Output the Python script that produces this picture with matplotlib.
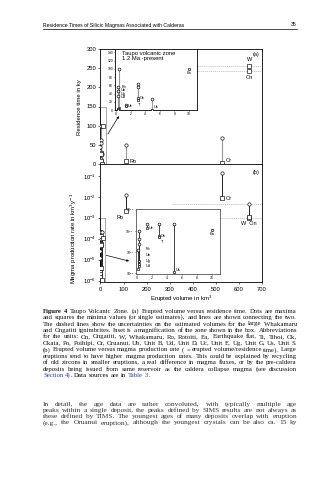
import matplotlib.pyplot as plt
import numpy as np
from matplotlib.patches import Rectangle

W_PX, H_PX, DPI = 329, 480, 100
plt.rcParams["font.family"] = ["Liberation Sans", "DejaVu Sans"]

# Large eruptions: W, On (Whakamaru, Ongatiti), Or (Oruanui), Ro (Rotoiti)
big_units = ["W", "On", "Or", "Ro"]
big_vol = [645, 645, 528, 112]
big_res_max = [np.nan, np.nan, 69, 49]
big_res_min = [256, 242, 1.5, 7.5]
big_rate_max = [4.5e-3, np.nan, 0.145, 0.012]
big_rate_min = [1.0e-3, 1.05e-3, 8.4e-3, 2.1e-3]

# volume uncertainty of the two large ignimbrites (dashed)
dash_lo_a = [308, 400]
dash_lo_b = [308, 511]

# Small deposits (shown in the insets)
small_units = ["Po", "Ub", "Ug", "Ud", "Ue", "Ok", "Ti", "Us", "Ea"]
small_vol = [0.35, 0.25, 0.3, 0.2, 1.3, 3.0, 3.0, 4.9, 10.0]
small_res_max = [99, 56, 45, 35, 12, 63, 55, 27, np.nan]
small_res_min = [5, 3, 2, 1, 9, 28, 25, 0.5, 99.5]
small_rate_max = [1.0e-4, 4.3e-5, 2.5e-5, 1.2e-5, 2.0e-4, 2.0e-4, np.nan, 2.0e-4, np.nan]
small_rate_min = [3.8e-6, 2.6e-6, 2.1e-6, 1.5e-6, 1.3e-4, 5.8e-5, 5.0e-5, 1.1e-6, 1.05e-4]

header = "Residence Times of Silicic Magmas Associated with Calderas"
page_no = "35"

BLUE = "#2b3f9a"
caption = [
    "Figure 4 | Taupo Volcanic Zone. (a) Erupted volume versus residence time. Dots are maxima",
    "and squares the minima values (or single estimates), and lines are shown connecting the two.",
    "The dashed lines show the uncertainties on the estimated volumes for the large Whakamaru",
    "and Ongatiti ignimbrites. Inset is a magnification of the zone shown in the box. Abbreviations",
    "for the units: On, Ongatiti, W, Whakamaru, Ro, Rotoiti, Ea, Earthquake flat, Ti, Tihoi, Ok,",
    "Okaia, Po, Poihipi, Or, Oruanui, Ub, Unit B, Ud, Unit D, Uc, Unit E, Ug, Unit G, Us, Unit S.",
    "(b) Erupted volume versus magma production rate ( = erupted volume/residence time). Large",
    "eruptions tend to have higher magma production rates. This could be explained by recycling",
    "of old zircons in smaller eruptions, a real difference in magma fluxes, or by the pre-caldera",
    "deposits being issued from same reservoir as the caldera collapse magma (see discussion",
]
caption_last = [("Section", BLUE, False), ("4)", BLUE, False), (".", "black", True),
                ("Data", "black", False), ("sources", "black", False), ("are", "black", False),
                ("in", "black", False), ("Table", BLUE, False), ("3", BLUE, False),
                (".", "black", True)]
body = [
    "In detail, the age data are rather convoluted, with typically multiple age",
    "peaks within a single deposit, the peaks defined by SIMS results are not always as",
    "these defined by TIMS. The youngest ages of many deposits overlap with eruption",
    "(e.g., the Oruanui eruption), although the youngest crystals can be also ca. 15 ky",
]


def fx(px):
    return px / W_PX


def fy(py):
    return 1 - py / H_PX


def axes_px(left, top, right, bottom):
    return fig.add_axes([fx(left), fy(bottom), fx(right) - fx(left), fy(top) - fy(bottom)])


fig = plt.figure(figsize=(W_PX / DPI, H_PX / DPI), dpi=DPI)
fig.patch.set_facecolor("white")

ax_a = axes_px(99.5, 49, 262, 164)
ax_b = axes_px(99.5, 164, 262, 282)
ins_a = axes_px(115, 49, 197, 110)
ins_b = axes_px(136, 209, 220, 274)


def draw_units(ax, vol, hi, lo, line_color, ms, lw):
    for v, h, l in zip(vol, hi, lo):
        if not (np.isnan(h) or np.isnan(l)):
            ax.plot([v, v], [l, h], color=line_color, lw=lw, zorder=2)
    ax.plot(vol, hi, "o", mfc="white", mec="black", ms=ms, mew=0.45, ls="none", zorder=3)
    ax.plot(vol, lo, "s", mfc="white", mec="black", ms=ms, mew=0.45, ls="none", zorder=3)


def style_axes(ax, size, length=1.5):
    for s in ax.spines.values():
        s.set_linewidth(0.6)
    ax.tick_params(labelsize=size, length=length, width=0.4, pad=1, direction="out")
    ax.minorticks_off()


# ---------- (a) residence time ----------
ax_a.set_xlim(-4, 700)
ax_a.set_ylim(0, 300)
ax_a.set_yticks(np.arange(0, 301, 50))
ax_a.set_xticks(np.arange(0, 701, 100))
ax_a.set_xticklabels([])
style_axes(ax_a, 4.2)
draw_units(ax_a, big_vol, big_res_max, big_res_min, "#999999", 2.4, 0.8)
draw_units(ax_a, small_vol, small_res_max, small_res_min, "#999999", 2.4, 0.8)
for lo, res in zip(dash_lo_a, big_res_min[:2]):
    ax_a.plot([lo, 700], [res, res], color="#999999", lw=0.4, ls=(0, (2, 1.5)), zorder=1)
ax_a.add_patch(Rectangle((-4, 0), 30, 150, fill=False, ec="#999999", lw=0.6))
ax_a.annotate("", xy=(80, 125), xytext=(32, 78),
              arrowprops=dict(arrowstyle="-|>", lw=0.5, color="black",
                              mutation_scale=3, shrinkA=0, shrinkB=0))
ax_a.annotate("W", (big_vol[0], big_res_min[0]), xytext=(0, 2.5), textcoords="offset points",
              ha="center", va="bottom", fontsize=4)
ax_a.annotate("On", (big_vol[1], big_res_min[1]), xytext=(0, -2.5), textcoords="offset points",
              ha="center", va="top", fontsize=4)
ax_a.annotate("Or", (big_vol[2], big_res_min[2]), xytext=(2.5, 0), textcoords="offset points",
              ha="left", va="bottom", fontsize=4)
ax_a.annotate("Ro", (big_vol[3], big_res_min[3]), xytext=(2.5, 0), textcoords="offset points",
              ha="left", va="center", fontsize=4)
ax_a.text(0.985, 0.97, "(a)", transform=ax_a.transAxes, ha="right", va="top", fontsize=4)

# inset (a)
ins_a.set_xlim(-0.15, 11.1)
ins_a.set_ylim(0, 148)
ins_a.set_xticks(np.arange(0, 11, 2))
ins_a.set_yticks(np.arange(0, 141, 20))
style_axes(ins_a, 2.4, 1.0)
ins_a.tick_params(pad=0.5)
draw_units(ins_a, small_vol, small_res_max, small_res_min, "#999999", 2.0, 0.8)
for name, y in zip(small_units[:4], [56, 48, 39, 31]):
    ins_a.text(0.7, y, name, fontsize=2.8, va="center")
ins_a.annotate("Ue", (small_vol[4], small_res_min[4]), xytext=(1.5, 0), textcoords="offset points",
               fontsize=2.8, va="center")
ins_a.annotate("Ok", (small_vol[5], small_res_min[5]), xytext=(1.5, 0), textcoords="offset points",
               fontsize=2.8, va="center")
ins_a.annotate("Ti", (small_vol[6], small_res_min[6]), xytext=(0, -2.5), textcoords="offset points",
               fontsize=2.8, va="top")
ins_a.annotate("Us", (small_vol[7], small_res_min[7]), xytext=(1.5, 0.5), textcoords="offset points",
               fontsize=2.8, va="bottom")
ins_a.annotate("Ea", (small_vol[8], small_res_min[8]), xytext=(0, -1.5), textcoords="offset points",
               fontsize=2.8, va="top", ha="center")
ins_a.text(0.09, 0.97, "Taupo volcanic zone\n1.2 Ma -present", transform=ins_a.transAxes,
           fontsize=4.2, va="top", linespacing=1.0)

# ---------- (b) production rate ----------
ax_b.set_xlim(-4, 700)
ax_b.set_yscale("log")
ax_b.set_ylim(8.5e-7, 0.37)
ax_b.set_xticks(np.arange(0, 701, 100))
ax_b.set_yticks([1e-6, 1e-5, 1e-4, 1e-3, 1e-2, 1e-1])
style_axes(ax_b, 4.2)
ax_b.tick_params(axis="x", pad=2)
draw_units(ax_b, big_vol, big_rate_max, big_rate_min, "#222222", 2.4, 0.7)
draw_units(ax_b, small_vol, small_rate_max, small_rate_min, "#222222", 2.4, 0.7)
for lo, rate in zip(dash_lo_b, [big_rate_max[0], big_rate_min[0]]):
    ax_b.plot([lo, 700], [rate, rate], color="#999999", lw=0.4, ls=(0, (2, 1.5)), zorder=1)
ax_b.add_patch(Rectangle((-4, 5e-7), 23, 1e-3 - 5e-7, fill=False, ec="#999999", lw=0.6))
ax_b.annotate("", xy=(124, 8.5e-6), xytext=(25, 1.6e-5),
              arrowprops=dict(arrowstyle="-|>", lw=0.5, color="black",
                              mutation_scale=3, shrinkA=0, shrinkB=0))
ax_b.annotate("W  On", (big_vol[0], big_rate_min[0]), xytext=(0, -2.5), textcoords="offset points",
              ha="center", va="top", fontsize=4)
ax_b.annotate("Or", (big_vol[2], big_rate_min[2]), xytext=(2.5, 0), textcoords="offset points",
              ha="left", va="center", fontsize=4)
ax_b.annotate("Ro", (big_vol[3], big_rate_min[3]), xytext=(-2, -3), textcoords="offset points",
              ha="right", va="top", fontsize=4)
ax_b.text(0.985, 0.95, "(b)", transform=ax_b.transAxes, ha="right", va="top", fontsize=4)

# inset (b)
ins_b.set_xlim(-0.1, 11.1)
ins_b.set_yscale("log")
ins_b.set_ylim(9e-7, 1.08e-3)
ins_b.set_xticks(np.arange(0, 11, 2))
ins_b.set_yticks([1e-6, 1e-5, 1e-4, 1e-3])
style_axes(ins_b, 2.4, 1.0)
ins_b.tick_params(pad=0.5)
for s in ins_b.spines.values():
    s.set_color("#555555")
draw_units(ins_b, small_vol, small_rate_max, small_rate_min, "#222222", 2.0, 0.6)
for name, y in zip(small_units[:4], [1.4e-5, 7.1e-6, 3.8e-6, 2.1e-6]):
    ins_b.text(1.2, y, name, fontsize=2.8, va="center")
ins_b.annotate("Ue", (small_vol[4], small_rate_min[4]), xytext=(1.5, 0), textcoords="offset points",
               fontsize=2.8, va="center")
ins_b.annotate("Ok", (small_vol[5], small_rate_min[5]), xytext=(1.5, 0), textcoords="offset points",
               fontsize=2.8, va="center")
ins_b.annotate("Ti", (small_vol[6], small_rate_min[6]), xytext=(1.5, -2), textcoords="offset points",
               fontsize=2.8, va="top")
ins_b.annotate("Us", (small_vol[7], small_rate_min[7]), xytext=(1.5, 0), textcoords="offset points",
               fontsize=2.8, va="bottom")
ins_b.annotate("Ea", (small_vol[8], small_rate_min[8]), xytext=(0, -1.5), textcoords="offset points",
               fontsize=2.8, va="top", ha="center")

# axis titles
fig.text(fx(79), fy(107), "Residence time in ky", rotation=90, fontsize=4.3, ha="center", va="center")
fig.text(fx(74), fy(238), "Magma production rate in km$^3$y$^{-1}$", rotation=90, fontsize=4.3,
         ha="center", va="center")
fig.text(fx(181), fy(299), "Erupted volume in km$^3$", fontsize=4.3, ha="center", va="center")

# ---------- page text ----------
X0, X1 = 43, 297
renderer = fig.canvas.get_renderer()


def place_line(y_px, tokens, size, family, justify):
    items = []
    for word, col, glue, weight in tokens:
        t = fig.text(0, fy(y_px), word, fontsize=size, family=family, color=col,
                     weight=weight, va="baseline", ha="left")
        items.append((t, t.get_window_extent(renderer).width, glue))
    probe = fig.text(0, 0, "a a", fontsize=size, family=family)
    probe2 = fig.text(0, 0, "aa", fontsize=size, family=family)
    space = probe.get_window_extent(renderer).width - probe2.get_window_extent(renderer).width
    probe.remove()
    probe2.remove()
    total = sum(w for _, w, _ in items)
    n_gaps = sum(1 for i, (_, _, g) in enumerate(items) if i > 0 and not g)
    gap = (X1 - X0 - total) / n_gaps if justify else space
    x = X0
    for i, (t, w, glue) in enumerate(items):
        if i > 0 and not glue:
            x += gap
        t.set_x(fx(x))
        x += w


def words(line, color="black"):
    toks = []
    for w in line.split():
        if w == "|":
            continue
        toks.append((w, color, False, "normal"))
    return toks


fig.text(fx(X0), fy(26.5), header, fontsize=3.7, va="baseline", ha="left")
fig.text(fx(X1), fy(26.5), page_no, fontsize=3.7, va="baseline", ha="right")
fig.add_artist(plt.Line2D([fx(X0), fx(X1)], [fy(29.3), fy(29.3)], color="black", lw=0.5))

serif = ["Liberation Serif", "DejaVu Serif"]
cap_y0, cap_dy = 312.6, 6.45
for i, line in enumerate(caption):
    toks = words(line, "#111111")
    if i == 0:
        toks[0] = ("Figure", "#111111", False, "bold")
        toks[1] = ("4", "#111111", False, "bold")
    place_line(cap_y0 + i * cap_dy, toks, 4.85, serif, True)
last = [(w, c, g, "normal") for w, c, g in caption_last]
place_line(cap_y0 + len(caption) * cap_dy, last, 4.85, serif, False)

body_y0, body_dy = 405.8, 6.2
for i, line in enumerate(body):
    place_line(body_y0 + i * body_dy, words(line, "#333333"), 5.3, serif, True)

fig.savefig("out.png", dpi=DPI)
